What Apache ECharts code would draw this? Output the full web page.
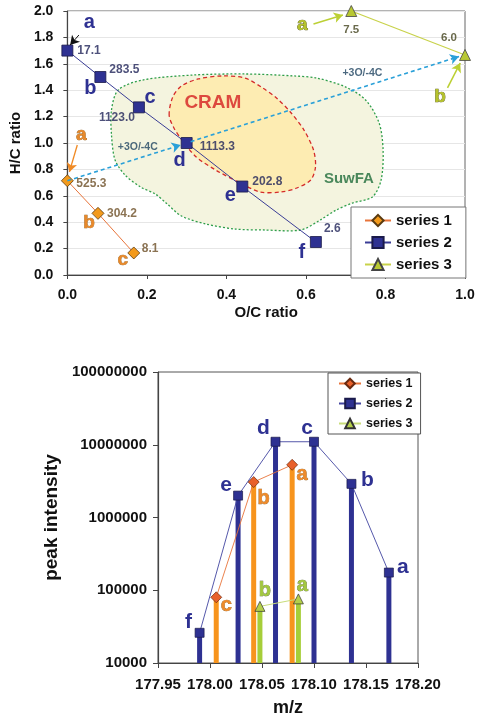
<!DOCTYPE html>
<html><head><meta charset="utf-8">
<script src="https://cdn.jsdelivr.net/npm/echarts@6/dist/echarts.min.js"></script>
<style>html,body{margin:0;padding:0;background:#fff}#c{width:478px;height:718px}</style>
</head><body><div id="c"></div>
<script>
// ================= DATA =================
// --- top chart: H/C vs O/C ---
var s1OC = [0.000, 0.077, 0.167];
var s1HC = [0.714, 0.467, 0.167];
var s1Letters = ['a', 'b', 'c'];
var s1Values = ['525.3', '304.2', '8.1'];

var s2OC = [0.000, 0.083, 0.180, 0.300, 0.440, 0.625];
var s2HC = [1.700, 1.500, 1.270, 1.000, 0.670, 0.250];
var s2Letters = ['a', 'b', 'c', 'd', 'e', 'f'];
var s2Values = ['17.1', '283.5', '1123.0', '1113.3', '202.8', '2.6'];

var s3OC = [0.714, 1.000];
var s3HC = [2.000, 1.667];
var s3Letters = ['a', 'b'];
var s3Values = ['7.5', '6.0'];

// regions (outline in O/C , H/C units)
var suwfaOC = [0.111,0.128,0.189,0.317,0.447,0.570,0.627,0.700,0.750,0.784,0.794,0.789,0.767,0.717,0.676,0.636,0.587,0.496,0.423,0.349,0.287,0.251,0.221,0.184,0.145,0.120,0.111];
var suwfaHC = [1.250,1.402,1.477,1.515,1.523,1.508,1.492,1.424,1.326,1.152,0.947,0.720,0.591,0.545,0.492,0.417,0.341,0.341,0.348,0.386,0.447,0.538,0.614,0.667,0.758,0.871,1.061];
var cramOC = [0.256,0.265,0.287,0.329,0.391,0.447,0.491,0.526,0.563,0.595,0.619,0.624,0.612,0.577,0.538,0.484,0.435,0.373,0.324,0.292,0.268];
var cramHC = [1.212,1.348,1.432,1.485,1.508,1.492,1.417,1.341,1.227,1.098,0.947,0.818,0.720,0.659,0.629,0.629,0.697,0.795,0.894,1.008,1.114];

// region / reaction annotations
var annoText = ['CRAM', 'SuwFA', '+3O/-4C', '+3O/-4C'];
var annoOC = [0.366, 0.708, 0.177, 0.742];
var annoHC = [1.303, 0.727, 0.970, 1.530];

// arrows [fromOC, fromHC, toOC, toHC]
var reactionArrows = [[0.000, 0.714, 0.285, 0.985], [0.310, 1.010, 0.985, 1.655]];
var pointerS2 = [[0.029, 1.818, 0.007, 1.742]];
var pointerS1 = [[0.025, 0.985, 0.005, 0.780]];
var pointerS3 = [[0.619, 1.902, 0.693, 1.970], [0.956, 1.417, 0.988, 1.606]];

// --- bottom chart: peak intensity vs m/z ---
var mz1 = [178.006, 178.042, 178.079];
var int1 = [80000, 3070000, 5300000];
var b1Letters = ['c', 'b', 'a'];

var mz2 = [177.990, 178.027, 178.063, 178.100, 178.136, 178.172];
var int2 = [26000, 2000000, 11000000, 11000000, 2900000, 175000];
var b2Letters = ['f', 'e', 'd', 'c', 'b', 'a'];

var mz3 = [178.048, 178.085];
var int3 = [60000, 76000];
var b3Letters = ['b', 'a'];

var legendNames = ['series 1', 'series 2', 'series 3'];

// ================= LAYOUT / STYLE =================
var FONT = '"Liberation Sans", Arial, Helvetica, sans-serif';
var NAVY = '#2e3192';

var offS1L = [[14,-46],[-9,9],[-11,7]];
var offS1V = [[9,3],[9,0],[8,-4]];
var offS2L = [[22,-28],[-10,11],[11,-10],[-7,17],[-12,9],[-14,10]];
var offS2V = [[10,0],[9,-7],[-4,10],[13,4],[10,-5],[8,-13]];
var alS2V = ['left','left','right','left','left','left'];
var offS3L = [[-49,14],[-25,42]];
var offS3V = [[0,19],[-16,-17]];

var offB1 = [[10,8],[10,16],[10,10]];
var offB2 = [[-11,-11],[-12,-10],[-12,-14],[-7,-14],[16,-4],[14,-5]];
var offB3 = [[5,-16],[4,-13]];

function items(xs, ys, texts, offs, aligns) {
  return xs.map(function (x, i) {
    return { value: [x, ys[i]], label: { formatter: texts[i], offset: offs[i], align: aligns ? aligns[i] : 'center' } };
  });
}
function textSeries(xi, xs, ys, texts, offs, aligns, style) {
  return {
    type: 'scatter', xAxisIndex: xi, yAxisIndex: xi, silent: true, z: 8,
    symbolSize: 1, itemStyle: { color: 'rgba(0,0,0,0)' },
    label: Object.assign({ show: true, position: 'inside', verticalAlign: 'middle', fontFamily: FONT, fontWeight: 'bold' }, style),
    data: items(xs, ys, texts, offs, aligns)
  };
}
function polySeries(xs, ys, fill, stroke, dash, z) {
  return {
    type: 'custom', xAxisIndex: 0, yAxisIndex: 0, silent: true, z: z, data: [[0, 0]],
    renderItem: function (p, api) {
      var pts = xs.map(function (x, i) { return api.coord([x, ys[i]]); });
      return { type: 'polygon', shape: { points: pts, smooth: 0.3 },
        style: { fill: fill, stroke: stroke, lineWidth: 1.3, lineDash: dash } };
    }
  };
}
function arrowSeries(list, color, width, type) {
  return {
    type: 'line', xAxisIndex: 0, yAxisIndex: 0, data: [], silent: true, z: 6,
    markLine: {
      silent: true, symbol: ['none', 'arrow'], symbolSize: [8, 9], animation: false,
      label: { show: false },
      lineStyle: { color: color, width: width, type: type },
      data: list.map(function (a) { return [{ coord: [a[0], a[1]] }, { coord: [a[2], a[3]] }]; })
    }
  };
}
function barSeries(xs, ys, color) {
  return {
    type: 'custom', xAxisIndex: 1, yAxisIndex: 1, silent: true, z: 2,
    data: xs.map(function (x, i) { return [x, ys[i]]; }),
    encode: { x: 0, y: 1 },
    renderItem: function (p, api) {
      var top = api.coord([api.value(0), api.value(1)]);
      var base = api.coord([api.value(0), 10000]);
      return { type: 'rect', shape: { x: top[0] - 2.5, y: top[1], width: 5, height: base[1] - top[1] },
        style: { fill: color } };
    }
  };
}

var axisLbl = { fontFamily: FONT, fontWeight: 'bold', color: '#111' };

var option = {
  animation: false,
  backgroundColor: '#fff',
  grid: [
    { left: 58, top: 11, width: 407, height: 264, show: true, borderColor: '#666', borderWidth: 1 },
    { left: 158, top: 372, width: 260, height: 291, show: true, borderColor: '#555', borderWidth: 1 }
  ],
  legend: [
    { data: legendNames, orient: 'vertical', left: 351, top: 207, itemGap: 7, itemWidth: 26, itemHeight: 14,
      padding: [6, 14, 6, 13], backgroundColor: '#fff', borderColor: '#777', borderWidth: 1,
      textStyle: { fontFamily: FONT, fontSize: 15, fontWeight: 'bold', color: '#111' } },
    { data: legendNames.map(function (n) { return n + ' '; }), orient: 'vertical', left: 328, top: 373,
      itemGap: 7, itemWidth: 22, itemHeight: 12, padding: [4, 8, 4, 10], backgroundColor: '#fff',
      borderColor: '#555', borderWidth: 1,
      formatter: function (n) { return n.trim(); },
      textStyle: { fontFamily: FONT, fontSize: 12.5, fontWeight: 'bold', color: '#111' } }
  ],
  xAxis: [
    { type: 'value', gridIndex: 0, min: 0, max: 1, interval: 0.2,
      name: 'O/C ratio', nameLocation: 'middle', nameGap: 30,
      nameTextStyle: { fontFamily: FONT, fontSize: 15, fontWeight: 'bold', color: '#111' },
      axisLine: { show: true, onZero: false, lineStyle: { color: '#444', width: 1.2 } },
      axisTick: { show: true, length: 4, lineStyle: { color: '#444' } },
      axisLabel: Object.assign({ fontSize: 14, margin: 13, formatter: function (v) { return v.toFixed(1); } }, axisLbl),
      splitLine: { show: false } },
    { type: 'value', gridIndex: 1, min: 177.95, max: 178.2, interval: 0.05,
      name: 'm/z', nameLocation: 'middle', nameGap: 36,
      nameTextStyle: { fontFamily: FONT, fontSize: 18, fontWeight: 'bold', color: '#111' },
      axisLine: { show: true, onZero: false, lineStyle: { color: '#444', width: 1.2 } },
      axisTick: { show: true, length: 5, lineStyle: { color: '#444' } },
      axisLabel: Object.assign({ fontSize: 15, margin: 14, formatter: function (v) { return v.toFixed(2); } }, axisLbl),
      splitLine: { show: false } }
  ],
  yAxis: [
    { type: 'value', gridIndex: 0, min: 0, max: 2, interval: 0.2,
      name: 'H/C ratio', nameLocation: 'middle', nameGap: 41,
      nameTextStyle: { fontFamily: FONT, fontSize: 15, fontWeight: 'bold', color: '#111' },
      axisLine: { show: true, onZero: false, lineStyle: { color: '#444', width: 1.2 } },
      axisTick: { show: true, length: 4, lineStyle: { color: '#444' } },
      axisLabel: Object.assign({ fontSize: 14, margin: 14, formatter: function (v) { return v.toFixed(1); } }, axisLbl),
      splitLine: { show: true, lineStyle: { color: '#e6e6e6', width: 1 } } },
    { type: 'log', gridIndex: 1, logBase: 10, min: 10000, max: 100000000,
      name: 'peak intensity', nameLocation: 'middle', nameGap: 89,
      nameTextStyle: { fontFamily: FONT, fontSize: 19, fontWeight: 'bold', color: '#111' },
      axisLine: { show: true, onZero: false, lineStyle: { color: '#444', width: 1.2 } },
      axisTick: { show: true, length: 5, lineStyle: { color: '#444' } },
      axisLabel: Object.assign({ fontSize: 15, margin: 11, formatter: function (v) { return String(Math.round(v)); } }, axisLbl),
      splitLine: { show: false } }
  ],
  series: [
    // regions
    polySeries(suwfaOC, suwfaHC, '#f4f4df', '#2e9e4a', [2, 2], 1),
    polySeries(cramOC, cramHC, '#fdecb2', '#d42a2a', [4, 3], 1),
    // arrows
    arrowSeries(reactionArrows, '#2aa0d8', 1.6, [4, 3]),
    arrowSeries(pointerS2, '#111', 1, 'solid'),
    arrowSeries(pointerS1, '#f08a24', 1.3, 'solid'),
    arrowSeries(pointerS3, '#bcd034', 1.6, 'solid'),
    // top series
    { name: 'series 1', type: 'line', xAxisIndex: 0, yAxisIndex: 0, z: 4,
      symbol: 'diamond', symbolSize: 12, itemStyle: { color: '#f39a1c', borderColor: '#5a3a10', borderWidth: 0.8 },
      lineStyle: { color: '#e8743a', width: 1 },
      label: { show: true, position: 'inside', verticalAlign: 'middle', fontFamily: FONT, fontWeight: 'bold', fontSize: 19,
        color: '#e8892b', textBorderColor: '#8b5a1b', textBorderWidth: 0.6 },
      data: items(s1OC, s1HC, s1Letters, offS1L) },
    { name: 'series 2', type: 'line', xAxisIndex: 0, yAxisIndex: 0, z: 4,
      symbol: 'rect', symbolSize: 11, itemStyle: { color: NAVY, borderColor: '#1a1a4a', borderWidth: 0.8 },
      lineStyle: { color: '#3a3d96', width: 1 },
      label: { show: true, position: 'inside', verticalAlign: 'middle', fontFamily: FONT, fontWeight: 'bold', fontSize: 20, color: NAVY },
      data: items(s2OC, s2HC, s2Letters, offS2L) },
    { name: 'series 3', type: 'line', xAxisIndex: 0, yAxisIndex: 0, z: 4,
      symbol: 'triangle', symbolSize: 11, itemStyle: { color: '#b8c832', borderColor: '#444', borderWidth: 0.8 },
      lineStyle: { color: '#c8d24a', width: 1.2 },
      label: { show: true, position: 'inside', verticalAlign: 'middle', fontFamily: FONT, fontWeight: 'bold', fontSize: 19,
        color: '#b5c22c', textBorderColor: '#5a5a20', textBorderWidth: 0.7 },
      data: items(s3OC, s3HC, s3Letters, offS3L) },
    // top value labels
    textSeries(0, s1OC, s1HC, s1Values, offS1V, ['left','left','left'], { fontSize: 12, color: '#6e5028' }),
    textSeries(0, s2OC, s2HC, s2Values, offS2V, alS2V, { fontSize: 12, color: '#22255a' }),
    textSeries(0, s3OC, s3HC, s3Values, offS3V, null, { fontSize: 11.5, color: '#45451f' }),
    // annotations
    textSeries(0, annoOC.slice(0, 1), annoHC.slice(0, 1), annoText.slice(0, 1), [[0, 0]], null, { fontSize: 19, color: '#d42020' }),
    textSeries(0, annoOC.slice(1, 2), annoHC.slice(1, 2), annoText.slice(1, 2), [[0, 0]], null, { fontSize: 15, color: '#1e6b3a' }),
    textSeries(0, annoOC.slice(2), annoHC.slice(2), annoText.slice(2), [[0, 0], [0, 0]], null, { fontSize: 10.5, color: '#1f4460' }),
    // bottom bars
    barSeries(mz2, int2, NAVY),
    barSeries(mz1, int1, '#f7941d'),
    barSeries(mz3, int3, '#a6ce39'),
    // bottom lines
    { name: 'series 1 ', type: 'line', xAxisIndex: 1, yAxisIndex: 1, z: 4,
      symbol: 'diamond', symbolSize: 11, itemStyle: { color: '#e8602a', borderColor: '#6a2a10', borderWidth: 0.7 },
      lineStyle: { color: '#e8743a', width: 0.9 },
      label: { show: true, position: 'inside', verticalAlign: 'middle', fontFamily: FONT, fontWeight: 'bold', fontSize: 20,
        color: '#ee8a2a', textBorderColor: '#8b5a1b', textBorderWidth: 0.6 },
      data: items(mz1, int1, b1Letters, offB1) },
    { name: 'series 2 ', type: 'line', xAxisIndex: 1, yAxisIndex: 1, z: 4,
      symbol: 'rect', symbolSize: 9, itemStyle: { color: NAVY, borderColor: '#1a1a4a', borderWidth: 0.7 },
      lineStyle: { color: '#4245a0', width: 0.9 },
      label: { show: true, position: 'inside', verticalAlign: 'middle', fontFamily: FONT, fontWeight: 'bold', fontSize: 21, color: NAVY },
      data: items(mz2, int2, b2Letters, offB2) },
    { name: 'series 3 ', type: 'line', xAxisIndex: 1, yAxisIndex: 1, z: 4,
      symbol: 'triangle', symbolSize: 10, itemStyle: { color: '#b5d04a', borderColor: '#333', borderWidth: 0.7 },
      lineStyle: { color: '#c8dc7a', width: 1 },
      label: { show: true, position: 'inside', verticalAlign: 'middle', fontFamily: FONT, fontWeight: 'bold', fontSize: 20,
        color: '#a3c840', textBorderColor: '#4a5a20', textBorderWidth: 0.6 },
      data: items(mz3, int3, b3Letters, offB3) }
  ]
};

var chart = echarts.init(document.getElementById('c'), null, { renderer: 'canvas' });
chart.setOption(option);
</script>
</body></html>
